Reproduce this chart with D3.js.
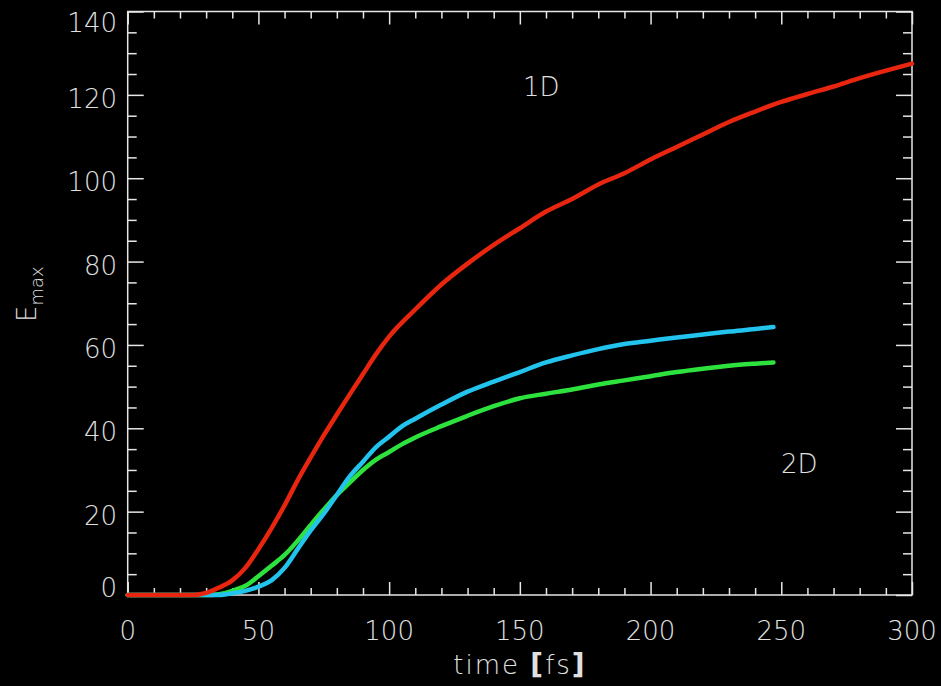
<!DOCTYPE html>
<html lang="en">
<head>
    <meta charset="UTF-8">
    <title>Emax vs time</title>
    <script src="https://d3js.org/d3.v7.min.js"></script>
    <style>
        body { margin: 0; background: #000; }
        text { font-family: "DejaVu Sans", sans-serif; fill: #e0e0e0; font-weight: 200; }
        .line { fill: none; stroke-width: 4.5; stroke-linejoin: round; stroke-linecap: round; }
        .axis path { display: none; }
        .axis line { stroke: #e6e6e6; stroke-width: 1.5; }
    </style>
</head>
<body>
    <svg width="941" height="686"></svg>
    <script>
        // 1D run (red)
        const time1D = [0, 10, 20, 25, 30, 35, 40, 45, 50, 55, 60, 65, 70, 75, 80, 85, 90, 95, 100,
            110, 120, 130, 140, 150, 160, 170, 180, 190, 200, 210, 220, 230, 240, 250, 260, 270, 280, 290, 300];
        const emax1D = [0, 0, 0, 0, 0.5, 1.8, 3.5, 6.5, 11, 16, 21.5, 27.5, 33, 38.3, 43.3, 48.2, 53, 57.8, 62,
            68.5, 74.5, 79.5, 84, 88, 92, 95, 98.5, 101.2, 104.5, 107.5, 110.5, 113.5, 116, 118.3, 120.2, 122, 124, 125.8, 127.5];

        // 2D runs (cyan, green)
        const time2D = [0, 10, 20, 30, 35, 40, 45, 50, 55, 60, 65, 70, 75, 80, 85, 90, 95, 100, 105, 110,
            120, 130, 140, 150, 160, 170, 180, 190, 200, 210, 220, 230, 240, 247];
        const emaxCyan = [0, 0, 0, 0, 0, 0.4, 1, 2, 3.5, 6.5, 11, 15.5, 19.5, 24, 28.5, 32, 35.5, 38, 40.5, 42.3,
            45.7, 48.8, 51.2, 53.5, 55.8, 57.5, 59, 60.2, 61, 61.8, 62.5, 63.2, 63.8, 64.3];
        const emaxGreen = [0, 0, 0, 0, 0.2, 1, 2.2, 4.5, 7, 9.6, 13, 16.8, 20.5, 24, 27, 30, 32.5, 34.3, 36.2, 37.8,
            40.5, 43, 45.3, 47.2, 48.3, 49.3, 50.5, 51.5, 52.5, 53.5, 54.3, 55, 55.5, 55.8];

        const xMajor = [0, 50, 100, 150, 200, 250, 300];
        const yMajor = [0, 20, 40, 60, 80, 100, 120, 140];

        const width = 941, height = 686;
        const margin = {top: 11.5, right: 29, bottom: 91, left: 127.7};

        const svg = d3.select("svg");
        svg.append("rect").attr("width", width).attr("height", height).attr("fill", "#000");

        const x = d3.scaleLinear().domain([0, 300]).range([margin.left, width - margin.right]);
        const y = d3.scaleLinear().domain([0, 140]).range([height - margin.bottom, margin.top]);

        const xMinor = d3.range(0, 301, 10).filter(v => v % 50 !== 0);
        const yMinor = d3.range(0, 141, 5).filter(v => v % 20 !== 0);

        const bottomY = y(0), topY = y(140);

        // ticks on all four sides, pointing inward
        function tickAxis(axisFn, scale, values, size, tr) {
            svg.append("g").attr("class", "axis").attr("transform", tr)
                .call(axisFn(scale).tickValues(values).tickSize(size).tickFormat(""));
        }
        tickAxis(d3.axisBottom, x, xMajor, -13, `translate(0,${bottomY})`);
        tickAxis(d3.axisBottom, x, xMinor, -7, `translate(0,${bottomY})`);
        tickAxis(d3.axisTop, x, xMajor, -13, `translate(0,${topY})`);
        tickAxis(d3.axisTop, x, xMinor, -7, `translate(0,${topY})`);
        tickAxis(d3.axisLeft, y, yMajor, -16, `translate(${x(0)},0)`);
        tickAxis(d3.axisLeft, y, yMinor, -9, `translate(${x(0)},0)`);
        tickAxis(d3.axisRight, y, yMajor, -16, `translate(${x(300)},0)`);
        tickAxis(d3.axisRight, y, yMinor, -9, `translate(${x(300)},0)`);

        svg.append("rect")
            .attr("x", x(0)).attr("y", topY)
            .attr("width", x(300) - x(0)).attr("height", bottomY - topY)
            .attr("fill", "none").attr("stroke", "#e6e6e6").attr("stroke-width", 1.5);

        // tick labels
        svg.selectAll("text.xlab").data(xMajor).enter().append("text")
            .attr("class", "xlab")
            .attr("x", d => x(d)).attr("y", 640)
            .attr("text-anchor", "middle").attr("font-size", 26)
            .text(d => d);

        svg.selectAll("text.ylab").data(yMajor).enter().append("text")
            .attr("class", "ylab")
            .attr("x", 117)
            .attr("y", d => d === 140 ? 32 : d === 0 ? 597 : y(d) + 13)
            .attr("text-anchor", "end").attr("font-size", 26)
            .text(d => d);

        // axis titles
        const xt = svg.append("text")
            .attr("x", 520).attr("y", 674)
            .attr("text-anchor", "middle").attr("font-size", 26)
            .attr("letter-spacing", 2);
        xt.append("tspan").text("time ");
        xt.append("tspan").attr("font-weight", "bold").attr("font-size", 28).text("[");
        xt.append("tspan").text("fs");
        xt.append("tspan").attr("font-weight", "bold").attr("font-size", 28).text("]");

        const yt = svg.append("text")
            .attr("transform", "translate(36,322) rotate(-90)");
        yt.append("tspan").attr("font-size", 26).text("E");
        yt.append("tspan").attr("font-size", 18).attr("dy", 7).text("max");

        svg.append("text").attr("x", 523).attr("y", 96).attr("font-size", 26).text("1D");
        svg.append("text").attr("x", 781).attr("y", 473).attr("font-size", 26).text("2D");

        // curves
        const line = (ts) => d3.line()
            .x((d, i) => x(ts[i]))
            .y(d => y(d))
            .curve(d3.curveMonotoneX);

        svg.append("path").datum(emaxGreen).attr("class", "line")
            .attr("stroke", "#2ee23e").attr("d", line(time2D));
        svg.append("path").datum(emaxCyan).attr("class", "line")
            .attr("stroke", "#22c4ee").attr("d", line(time2D));
        svg.append("path").datum(emax1D).attr("class", "line")
            .attr("stroke", "#e8260f").attr("d", line(time1D));
    </script>
</body>
</html>
